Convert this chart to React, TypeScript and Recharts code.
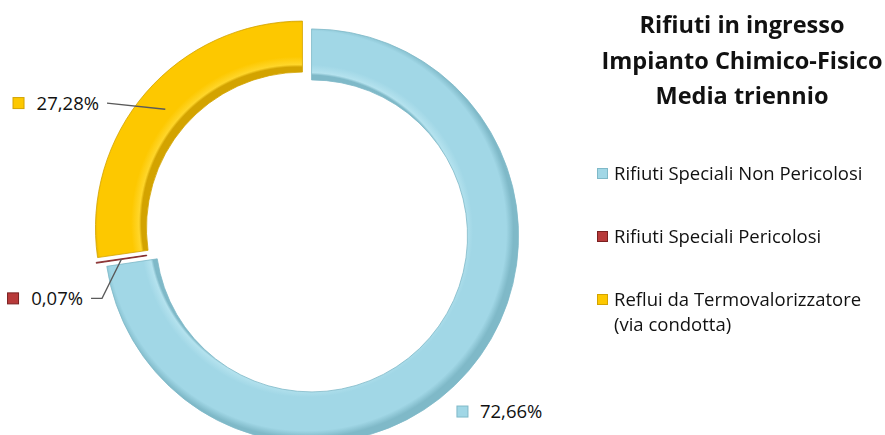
import React from 'react';
import { PieChart, Pie, Cell, Legend } from 'recharts';

const categories = [
  'Rifiuti Speciali Non Pericolosi',
  'Rifiuti Speciali Pericolosi',
  'Reflui da Termovalorizzatore (via condotta)',
];
const shares = [72.66, 0.07, 27.28];
const titleLines = ['Rifiuti in ingresso', 'Impianto Chimico-Fisico', 'Media triennio'];

const colors = ['#a1d7e6', '#b83a3a', '#fdc800'];
const lights = ['#b4e2ee', '#c85050', '#ffd62a'];
const edges = ['#7fb9c8', '#7a2020', '#d3a300'];
// label placement relative to slice middle: angle nudge, radius, leader on/off
const labelGeo = [
  { da: -9.6, r: 228, leader: false, side: 'right' },
  { da: 9.0, r: 220, leader: true, side: 'left' },
  { da: 8.3, r: 232, leader: true, side: 'left' },
];

const data = categories.map((name, i) => ({ name, value: shares[i] }));

const CX = 302;
const CY = 227;
const OUTER = 207;
const INNER = 156;
const EXPLODE = 6;
const RAD = Math.PI / 180;

const fmt = (v: number) => v.toFixed(2).replace('.', ',') + '%';
const FONT = '"Open Sans", sans-serif';

// mid angle of every slice, clockwise from 12 o'clock
const total = shares.reduce((a, b) => a + b, 0);
const midAngles: number[] = [];
{
  let acc = 0;
  shares.forEach((s) => {
    midAngles.push(90 - (acc + s / 2) / total * 360);
    acc += s;
  });
}
const centers = midAngles.map((m) => ({
  x: CX + EXPLODE * Math.cos(m * RAD),
  y: CY - EXPLODE * Math.sin(m * RAD),
}));

const renderLabel = (visible: number) => (props: any) => {
  const { index, cx, cy, midAngle, innerRadius, outerRadius } = props;
  if (index !== visible) return null;
  const g = labelGeo[index];
  const midR = (innerRadius + outerRadius) / 2;
  const sx = cx + midR * Math.cos(-midAngle * RAD);
  const sy = cy + midR * Math.sin(-midAngle * RAD);
  const a = midAngle + g.da;
  const ax = cx + g.r * Math.cos(-a * RAD);
  const ay = cy + g.r * Math.sin(-a * RAD);
  const txt = fmt(shares[index]);
  const tw = txt.length * 10.5;
  let markerX: number;
  let textX: number;
  if (g.side === 'left') {
    textX = ax - 8;
    markerX = textX - tw - 23;
  } else {
    markerX = ax;
    textX = ax + 23;
  }
  const knee = index === 1;
  const points = knee
    ? `${sx},${sy} ${ax + 11},${ay} ${ax},${ay}`
    : `${sx},${sy} ${ax},${ay}`;
  return (
    <g>
      {g.leader && <polyline points={points} fill="none" stroke="#5a5a5a" strokeWidth={1.3} />}
      <rect x={markerX} y={ay - 5.5} width={11} height={11} fill={colors[index]} stroke={edges[index]} strokeWidth={1} />
      <text
        x={textX}
        y={ay}
        dy="0.35em"
        textAnchor={g.side === 'left' ? 'end' : 'start'}
        fontFamily={FONT}
        fontSize={18.5}
        fill="#111"
      >
        {txt}
      </text>
    </g>
  );
};

const LegendContent = () => (
  <div style={{ fontFamily: FONT, color: '#111' }}>
    <div style={{ textAlign: 'center', fontWeight: 700, fontSize: 23.5, lineHeight: '35.5px', marginBottom: 46 }}>
      {titleLines.map((t) => (
        <div key={t}>{t}</div>
      ))}
    </div>
    {categories.map((c, i) => {
      const parts = i === 2 ? ['Reflui da Termovalorizzatore', '(via condotta)'] : [c];
      return (
        <div key={c} style={{ display: 'flex', alignItems: 'flex-start', marginBottom: 38, fontSize: 18.5, lineHeight: '25px' }}>
          <span
            style={{
              display: 'inline-block',
              width: 11,
              height: 11,
              marginTop: 8,
              marginRight: 6,
              background: colors[i],
              border: `1px solid ${edges[i]}`,
              boxSizing: 'border-box',
              flexShrink: 0,
            }}
          />
          <div>
            {parts.map((p) => (
              <div key={p} style={{ whiteSpace: 'nowrap' }}>{p}</div>
            ))}
          </div>
        </div>
      );
    })}
  </div>
);

const k = INNER / OUTER;

export default function App() {
  return (
    <div style={{ position: 'fixed', left: 0, top: 0, width: 885, height: 435, background: '#fff' }}>
      <PieChart width={885} height={435}>
        <defs>
          {colors.map((c, i) => (
            <radialGradient
              key={c}
              id={`ring${i}`}
              gradientUnits="userSpaceOnUse"
              cx={centers[i].x}
              cy={centers[i].y}
              r={OUTER}
            >
              <stop offset={k} stopColor={edges[i]} />
              <stop offset={k + 0.012} stopColor={lights[i]} />
              <stop offset={k + 0.05} stopColor={c} />
              <stop offset={0.965} stopColor={c} />
              <stop offset={1} stopColor={edges[i]} />
            </radialGradient>
          ))}
        </defs>
        {data.map((_, vis) => (
          <Pie
            key={vis}
            data={data}
            dataKey="value"
            nameKey="name"
            cx={centers[vis].x}
            cy={centers[vis].y}
            innerRadius={INNER}
            outerRadius={OUTER}
            startAngle={90}
            endAngle={-270}
            stroke="none"
            labelLine={false}
            label={renderLabel(vis)}
            isAnimationActive={false}
          >
            {data.map((d, i) => (
              <Cell
                key={d.name}
                fill={i === vis ? `url(#ring${i})` : 'none'}
                stroke={i === vis ? edges[i] : 'none'}
                strokeWidth={0.8}
              />
            ))}
          </Pie>
        ))}
        <Legend
          layout="vertical"
          verticalAlign="top"
          align="right"
          content={<LegendContent />}
          wrapperStyle={{ left: 597, top: 7, width: 290 }}
        />
      </PieChart>
    </div>
  );
}
